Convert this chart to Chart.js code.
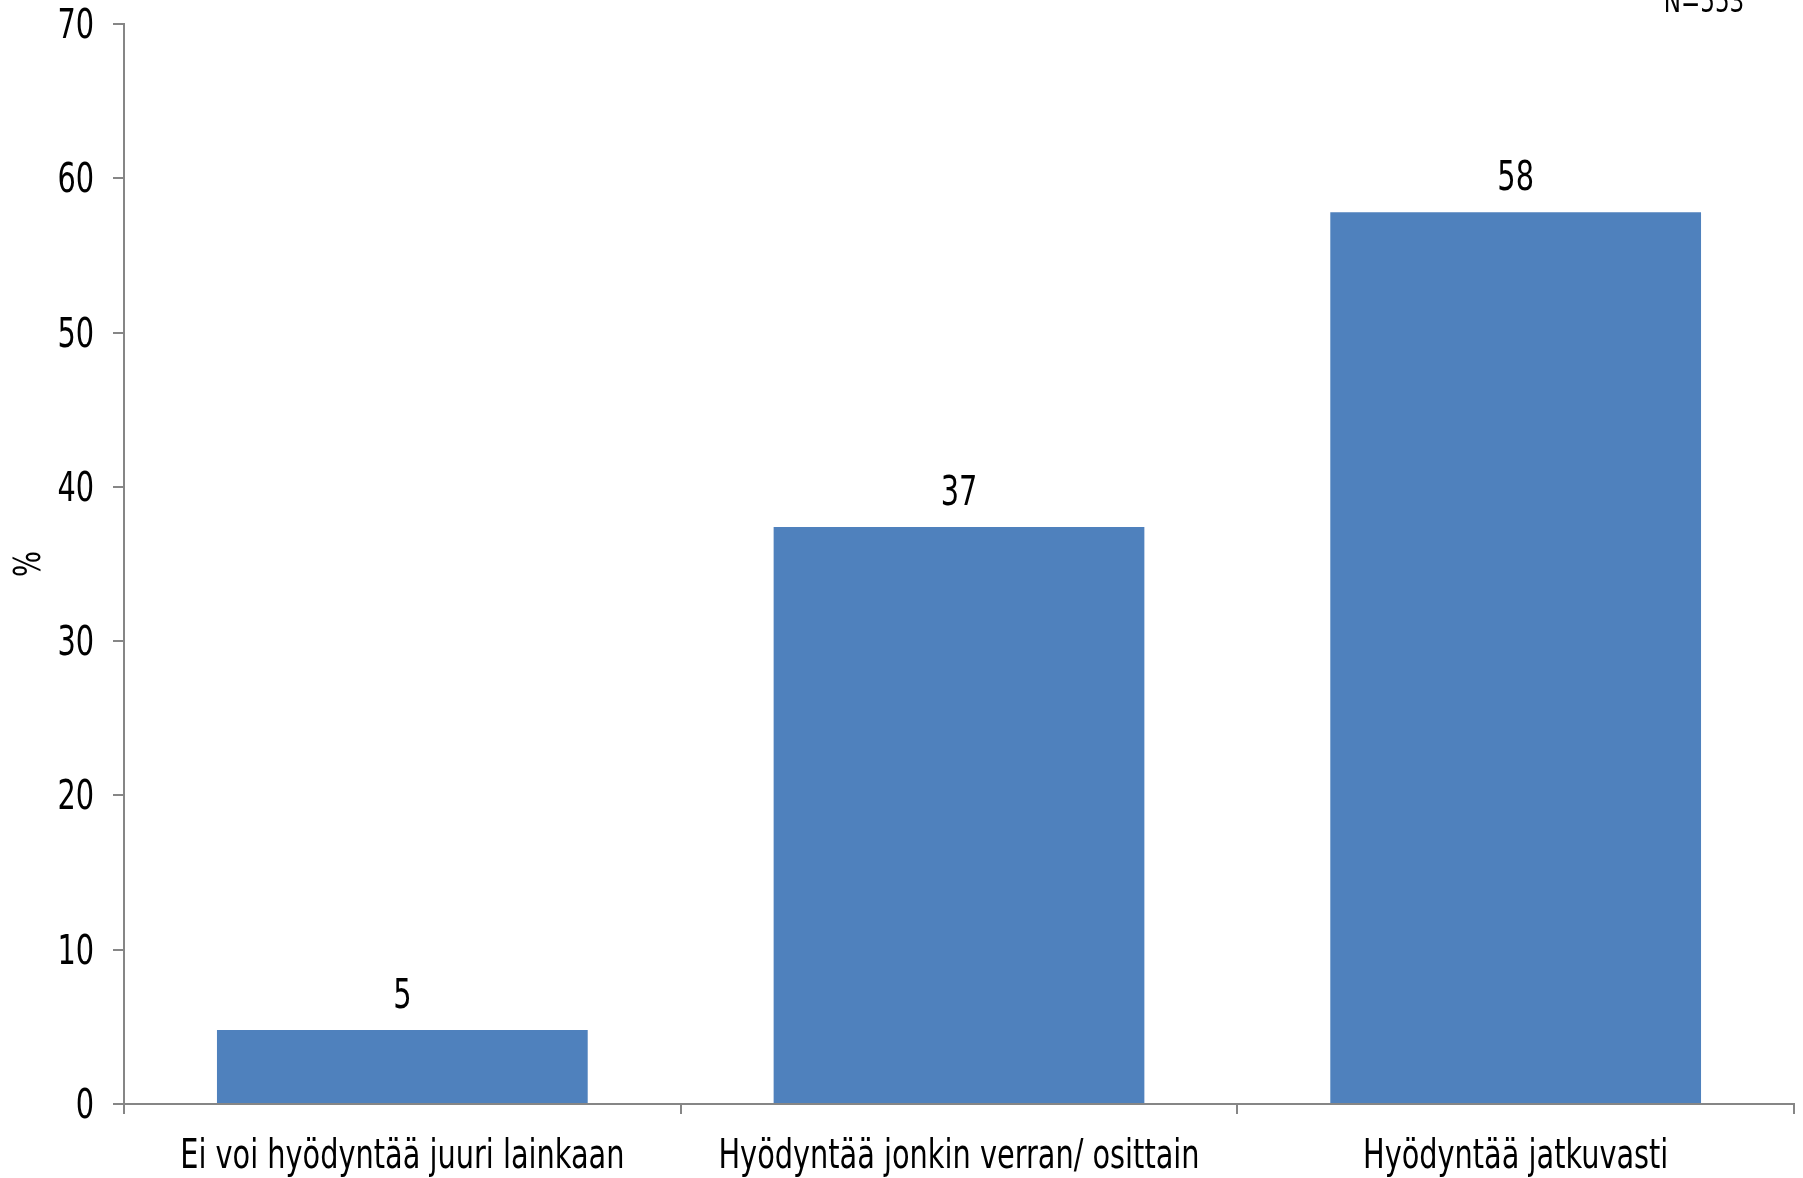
<!DOCTYPE html>
<html>
<head>
<meta charset="utf-8">
<script src="https://cdn.jsdelivr.net/npm/chart.js@4"></script>
<style>
  html, body { margin: 0; padding: 0; background: #fff; }
  #chart { display: block; }
</style>
</head>
<body>
<canvas id="chart" width="1803" height="1178"></canvas>
<script>
const categories = ['Ei voi hyödyntää juuri lainkaan', 'Hyödyntää jonkin verran/ osittain', 'Hyödyntää jatkuvasti'];
const values = [4.8, 37.4, 57.8];
const valueLabels = ['5', '37', '58'];
const yTicks = [0, 10, 20, 30, 40, 50, 60, 70];
const sampleNote = 'N=553';

const FONT = '"Liberation Sans Narrow", "DejaVu Sans Condensed", sans-serif';
const axisGray = '#868686';
const SQUEEZE = 0.8; // no narrow font installed, so squeeze the condensed one

function narrowText(ctx, text, x, y, align, rot) {
  ctx.save();
  ctx.translate(x, y);
  if (rot) ctx.rotate(rot);
  ctx.scale(SQUEEZE, 1);
  ctx.textAlign = align;
  ctx.fillText(text, 0, 0);
  ctx.restore();
}

// all text drawn here so it can be squeezed; positions come from the scales
const labelPlugin = {
  id: 'labels',
  afterDraw(chart) {
    const ctx = chart.ctx;
    const xs = chart.scales.x, ys = chart.scales.y;
    const meta = chart.getDatasetMeta(0);
    ctx.save();
    ctx.fillStyle = '#000';
    ctx.textBaseline = 'alphabetic';
    ctx.font = '40px ' + FONT;
    yTicks.forEach(v => narrowText(ctx, String(v), ys.right - 30, ys.getPixelForValue(v) + 14, 'right'));
    categories.forEach((c, i) => narrowText(ctx, c, xs.getPixelForTick(i), xs.top + 64, 'center'));
    meta.data.forEach((bar, i) => narrowText(ctx, valueLabels[i], bar.x, bar.y - 22, 'center'));
    ctx.font = '38px ' + FONT;
    narrowText(ctx, '%', 40, (ys.top + ys.bottom) / 2, 'center', -Math.PI / 2);
    ctx.font = '32px ' + FONT;
    narrowText(ctx, sampleNote, 1704, 12, 'center');
    ctx.restore();
  }
};

new Chart(document.getElementById('chart'), {
  type: 'bar',
  data: {
    labels: categories,
    datasets: [{
      data: values,
      backgroundColor: '#4F81BD',
      borderWidth: 0,
      categoryPercentage: 0.666,
      barPercentage: 1
    }]
  },
  options: {
    responsive: false,
    animation: false,
    layout: { padding: { top: 24, right: 9, left: 0, bottom: 0 } },
    plugins: { legend: { display: false }, tooltip: { enabled: false } },
    scales: {
      x: {
        offset: true,
        grid: { offset: true, drawOnChartArea: false, drawTicks: true, tickLength: 10, color: axisGray, lineWidth: 2 },
        border: { color: axisGray, width: 2 },
        ticks: { color: 'transparent', font: { size: 2 }, autoSkip: false, maxRotation: 0 },
        afterFit(scale) { scale.height = 74; }
      },
      y: {
        min: 0,
        max: 70,
        afterBuildTicks(scale) { scale.ticks = yTicks.map(v => ({ value: v })); },
        grid: { drawOnChartArea: false, drawTicks: true, tickLength: 11, color: axisGray, lineWidth: 2 },
        border: { color: axisGray, width: 2 },
        ticks: { color: 'transparent', font: { size: 2 }, padding: 0 },
        afterFit(scale) { scale.width = 124; }
      }
    }
  },
  plugins: [labelPlugin]
});
</script>
</body>
</html>
